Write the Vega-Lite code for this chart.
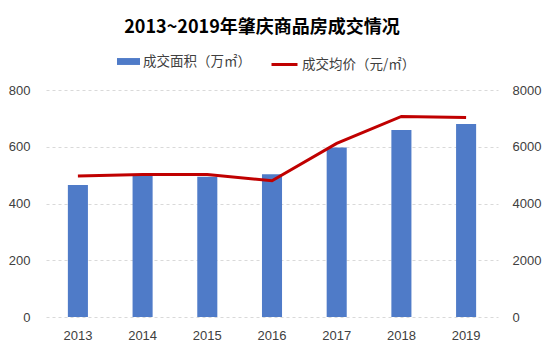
{
  "$schema": "https://vega.github.io/schema/vega-lite/v6.json",
  "width": 452,
  "height": 227,
  "autosize": {"type": "none"},
  "padding": {"left": 46, "top": 90, "right": 55, "bottom": 34},
  "background": "white",
  "title": {
    "text": "2013~2019年肇庆商品房成交情况",
    "font": "Noto Sans CJK SC",
    "fontSize": 18,
    "fontWeight": "bold",
    "color": "#000000",
    "frame": "group",
    "anchor": "middle",
    "offset": 13,
    "dx": -10
  },
  "data": {
    "values": [
      {"year": "2013", "area": 465, "price": 4970},
      {"year": "2014", "area": 498, "price": 5020},
      {"year": "2015", "area": 494, "price": 5020},
      {"year": "2016", "area": 503, "price": 4800},
      {"year": "2017", "area": 597, "price": 6120},
      {"year": "2018", "area": 659, "price": 7070},
      {"year": "2019", "area": 680, "price": 7030}
    ]
  },
  "encoding": {
    "x": {
      "field": "year",
      "type": "ordinal",
      "scale": {"paddingInner": 0.69, "paddingOuter": 0.338},
      "axis": {
        "title": null,
        "labelAngle": 0,
        "domain": false,
        "ticks": false,
        "labelPadding": 12,
        "labelFont": "Liberation Sans",
        "labelFontSize": 13,
        "labelColor": "#404040"
      }
    }
  },
  "layer": [
    {
      "mark": {"type": "bar"},
      "encoding": {
        "y": {
          "field": "area",
          "type": "quantitative",
          "scale": {"domain": [0, 800]},
          "axis": {
            "title": null,
            "values": [0, 200, 400, 600, 800],
            "format": "d",
            "domain": false,
            "ticks": false,
            "labelPadding": 16,
            "labelFont": "Liberation Sans",
            "labelFontSize": 13,
            "labelColor": "#404040",
            "gridColor": "#D9D9D9",
            "gridDash": [3, 3]
          }
        },
        "fill": {
          "datum": "成交面积（万㎡）",
          "type": "nominal",
          "scale": {"range": ["#4F7BC8"]},
          "legend": {
            "title": null,
            "orient": "none",
            "legendX": 71,
            "legendY": -40,
            "padding": 0,
            "symbolType": "M-1,-0.3H1V0.3H-1Z",
            "symbolSize": 529,
            "symbolStrokeWidth": 0,
            "labelFont": "Noto Sans CJK SC",
            "labelFontSize": 13.5,
            "labelColor": "#404040",
            "labelOffset": 3
          }
        }
      }
    },
    {
      "mark": {"type": "line", "strokeWidth": 3},
      "encoding": {
        "y": {
          "field": "price",
          "type": "quantitative",
          "scale": {"domain": [0, 8000]},
          "axis": {
            "orient": "right",
            "title": null,
            "values": [0, 2000, 4000, 6000, 8000],
            "format": "d",
            "grid": false,
            "domain": false,
            "ticks": false,
            "labelPadding": 14,
            "labelFont": "Liberation Sans",
            "labelFontSize": 13,
            "labelColor": "#404040"
          }
        },
        "stroke": {
          "datum": "成交均价（元/㎡）",
          "type": "nominal",
          "scale": {"range": ["#C00000"]},
          "legend": {
            "title": null,
            "orient": "none",
            "legendX": 224,
            "legendY": -40,
            "padding": 0,
            "symbolType": "stroke",
            "symbolSize": 676,
            "symbolStrokeWidth": 3,
            "labelFont": "Noto Sans CJK SC",
            "labelFontSize": 13.5,
            "labelColor": "#404040",
            "labelOffset": 3
          }
        }
      }
    }
  ],
  "resolve": {"scale": {"y": "independent", "fill": "independent", "stroke": "independent"}},
  "config": {"view": {"stroke": null}}
}
